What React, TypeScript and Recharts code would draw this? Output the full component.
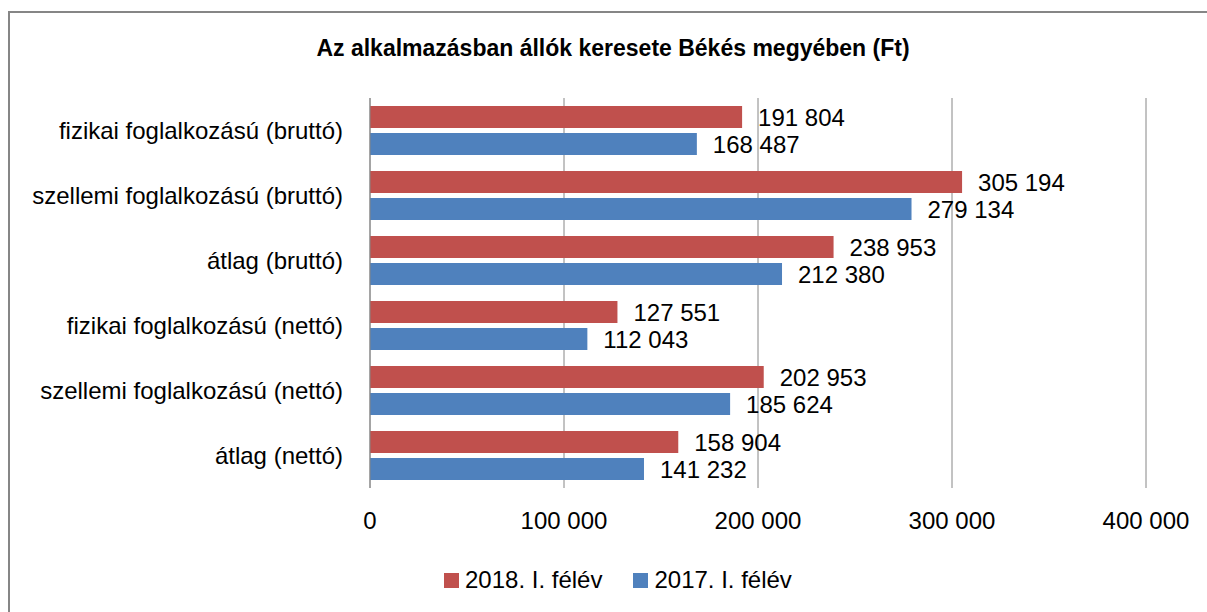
import { BarChart, Bar, XAxis, YAxis, CartesianGrid, LabelList } from 'recharts'

const categories = [
  'fizikai foglalkozású (bruttó)',
  'szellemi foglalkozású (bruttó)',
  'átlag (bruttó)',
  'fizikai foglalkozású (nettó)',
  'szellemi foglalkozású (nettó)',
  'átlag (nettó)',
]
const values2018 = [191804, 305194, 238953, 127551, 202953, 158904]
const values2017 = [168487, 279134, 212380, 112043, 185624, 141232]
const xTicks = [0, 100000, 200000, 300000, 400000]
const seriesNames = ['2018. I. félév', '2017. I. félév']
const seriesColors = ['#C0504D', '#4F81BD']

const data = categories.map((name, i) => ({
  name,
  y2018: values2018[i],
  y2017: values2017[i],
}))

const FONT = '"Liberation Sans", Arial, sans-serif'
const GRID = '#868686'
const FS = 24

const fmt = (v: number) =>
  String(v).replace(/\B(?=(\d{3})+(?!\d))/g, ' ')

function App() {
  return (
    <div
      style={{
        position: 'absolute',
        left: 0,
        top: 0,
        width: 1207,
        height: 612,
        background: '#fff',
        fontFamily: FONT,
        overflow: 'hidden',
      }}
    >
      <div
        style={{
          position: 'absolute',
          left: 8,
          top: 11,
          width: 1210,
          height: 620,
          borderLeft: `2px solid ${GRID}`,
          borderTop: `2px solid ${GRID}`,
        }}
      />
      <div
        style={{
          position: 'absolute',
          top: 34,
          left: 0,
          width: 1226,
          textAlign: 'center',
          fontWeight: 'bold',
          fontSize: 23,
          lineHeight: '28px',
          color: '#000',
        }}
      >
        Az alkalmazásban állók keresete Békés megyében (Ft)
      </div>
      <BarChart
        width={1207}
        height={612}
        data={data}
        layout="vertical"
        margin={{ top: 98, right: 61, bottom: 94, left: 20 }}
        barCategoryGap={8}
        barGap={5}
        style={{ position: 'absolute', left: 0, top: 0 }}
      >
        <CartesianGrid horizontal={false} stroke={GRID} />
        <XAxis
          type="number"
          domain={[0, 400000]}
          ticks={xTicks}
          tickFormatter={fmt}
          axisLine={false}
          tickLine={false}
          height={30}
          tick={{ fill: '#000', fontSize: FS, fontFamily: FONT, dy: 16 }}
        />
        <YAxis
          type="category"
          dataKey="name"
          width={350}
          axisLine={{ stroke: GRID }}
          tickLine={false}
          tickMargin={21}
          tick={{ fill: '#000', fontSize: FS, fontFamily: FONT }}
        />
        <Bar dataKey="y2018" name={seriesNames[0]} fill={seriesColors[0]} isAnimationActive={false}>
          <LabelList
            dataKey="y2018"
            position="right"
            offset={16}
            formatter={(v: any) => fmt(Number(v))}
            style={{ fill: '#000', fontSize: FS, fontFamily: FONT }}
          />
        </Bar>
        <Bar dataKey="y2017" name={seriesNames[1]} fill={seriesColors[1]} isAnimationActive={false}>
          <LabelList
            dataKey="y2017"
            position="right"
            offset={16}
            formatter={(v: any) => fmt(Number(v))}
            style={{ fill: '#000', fontSize: FS, fontFamily: FONT }}
          />
        </Bar>
      </BarChart>
      <div
        style={{
          position: 'absolute',
          top: 566,
          left: 444,
          display: 'flex',
          alignItems: 'center',
          fontSize: FS,
          lineHeight: '28px',
          color: '#000',
        }}
      >
        {seriesNames.map((n, i) => (
          <div key={n} style={{ display: 'flex', alignItems: 'center', marginRight: i === 0 ? 31 : 0 }}>
            <span style={{ width: 15, height: 15, background: seriesColors[i], marginRight: 6, display: 'inline-block' }} />
            <span>{n}</span>
          </div>
        ))}
      </div>
    </div>
  )
}

export default App
